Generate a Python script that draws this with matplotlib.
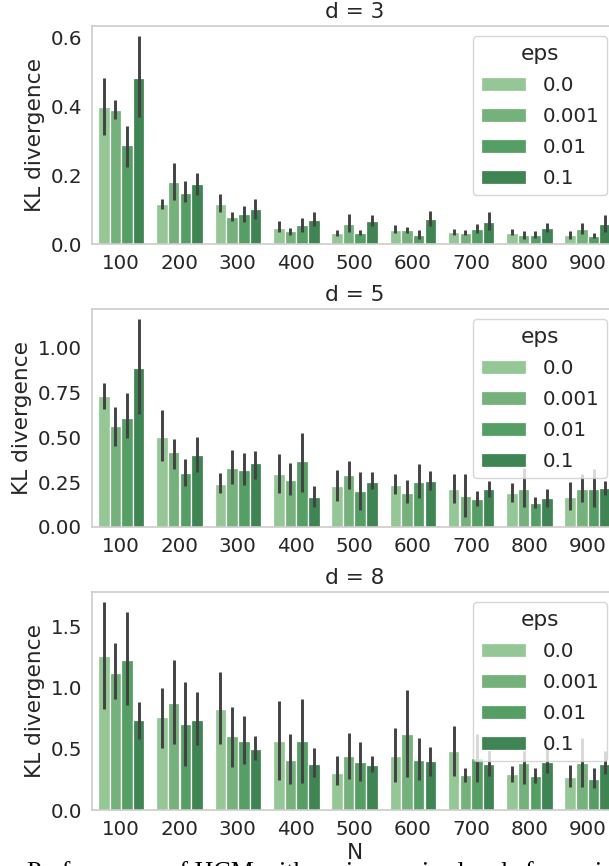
import matplotlib
matplotlib.use("Agg")
import matplotlib.pyplot as plt
import numpy as np

# ---------------- data ----------------
N_labels = ["100", "200", "300", "400", "500", "600", "700", "800", "900"]
eps_labels = ["0.0", "0.001", "0.01", "0.1"]
colors = ["#95c796", "#74b17b", "#559f65", "#3f8553"]

# d = 3  (mean, ci_low, ci_high) per eps, per N
d3_mean = [
    [0.398, 0.115, 0.117, 0.047, 0.033, 0.042, 0.035, 0.033, 0.025],
    [0.389, 0.181, 0.078, 0.038, 0.058, 0.041, 0.032, 0.025, 0.044],
    [0.287, 0.148, 0.087, 0.055, 0.033, 0.027, 0.043, 0.027, 0.024],
    [0.484, 0.174, 0.102, 0.070, 0.067, 0.072, 0.065, 0.048, 0.058],
]
d3_lo = [
    [0.318, 0.101, 0.093, 0.036, 0.024, 0.031, 0.027, 0.025, 0.015],
    [0.364, 0.128, 0.067, 0.027, 0.034, 0.031, 0.025, 0.015, 0.029],
    [0.224, 0.121, 0.065, 0.034, 0.025, 0.014, 0.031, 0.017, 0.017],
    [0.369, 0.144, 0.072, 0.053, 0.053, 0.053, 0.041, 0.036, 0.036],
]
d3_hi = [
    [0.482, 0.132, 0.145, 0.067, 0.042, 0.054, 0.043, 0.043, 0.037],
    [0.418, 0.237, 0.092, 0.047, 0.086, 0.050, 0.041, 0.037, 0.062],
    [0.344, 0.184, 0.111, 0.076, 0.041, 0.042, 0.057, 0.037, 0.032],
    [0.604, 0.208, 0.132, 0.092, 0.084, 0.096, 0.093, 0.062, 0.084],
]

# d = 5
d5_mean = [
    [0.726, 0.503, 0.239, 0.295, 0.230, 0.236, 0.210, 0.190, 0.169],
    [0.560, 0.416, 0.331, 0.263, 0.287, 0.190, 0.173, 0.212, 0.210],
    [0.608, 0.300, 0.319, 0.366, 0.201, 0.252, 0.153, 0.134, 0.210],
    [0.886, 0.400, 0.355, 0.166, 0.252, 0.256, 0.210, 0.160, 0.215],
]
d5_lo = [
    [0.654, 0.366, 0.190, 0.188, 0.147, 0.184, 0.136, 0.138, 0.094],
    [0.453, 0.324, 0.239, 0.177, 0.210, 0.134, 0.055, 0.110, 0.138],
    [0.494, 0.227, 0.234, 0.197, 0.096, 0.164, 0.116, 0.103, 0.109],
    [0.630, 0.308, 0.269, 0.110, 0.210, 0.208, 0.168, 0.110, 0.177],
]
d5_hi = [
    [0.803, 0.652, 0.298, 0.405, 0.317, 0.293, 0.293, 0.245, 0.252],
    [0.670, 0.488, 0.427, 0.355, 0.368, 0.260, 0.296, 0.330, 0.295],
    [0.746, 0.381, 0.411, 0.523, 0.308, 0.352, 0.201, 0.168, 0.324],
    [1.155, 0.499, 0.424, 0.227, 0.304, 0.309, 0.258, 0.214, 0.256],
]

# d = 8
d8_mean = [
    [1.257, 0.764, 0.824, 0.564, 0.306, 0.444, 0.485, 0.293, 0.271],
    [1.122, 0.878, 0.604, 0.412, 0.442, 0.623, 0.285, 0.385, 0.385],
    [1.230, 0.702, 0.564, 0.564, 0.393, 0.412, 0.423, 0.276, 0.252],
    [0.740, 0.734, 0.499, 0.377, 0.371, 0.398, 0.377, 0.396, 0.379],
]
d8_lo = [
    [0.827, 0.509, 0.539, 0.244, 0.203, 0.233, 0.276, 0.228, 0.190],
    [0.905, 0.542, 0.355, 0.211, 0.255, 0.266, 0.230, 0.214, 0.187],
    [0.856, 0.358, 0.374, 0.222, 0.241, 0.249, 0.233, 0.217, 0.184],
    [0.585, 0.528, 0.407, 0.271, 0.312, 0.279, 0.282, 0.301, 0.295],
]
d8_hi = [
    [1.699, 0.997, 1.133, 0.892, 0.439, 0.672, 0.688, 0.363, 0.369],
    [1.363, 1.228, 0.846, 0.621, 0.634, 0.986, 0.347, 0.561, 0.588],
    [1.621, 1.051, 0.770, 0.908, 0.558, 0.593, 0.621, 0.347, 0.347],
    [0.883, 0.962, 0.602, 0.507, 0.444, 0.518, 0.493, 0.520, 0.480],
]

titles = ["d = 3", "d = 5", "d = 8"]
panels = [(d3_mean, d3_lo, d3_hi), (d5_mean, d5_lo, d5_hi), (d8_mean, d8_lo, d8_hi)]

# ---------------- style ----------------
text_color = "#262626"
plt.rcParams["font.family"] = ["DejaVu Sans"]
plt.rcParams["text.color"] = text_color
plt.rcParams["axes.labelcolor"] = text_color
plt.rcParams["xtick.color"] = text_color
plt.rcParams["ytick.color"] = text_color

W, H = 609, 866
fig = plt.figure(figsize=(W / 100, H / 100), dpi=100)
fig.patch.set_facecolor("white")

ax_left, ax_right = 92, 617
ax_tops = [26, 309, 592]
ax_h = 218

for k, (means, los, his) in enumerate(panels):
    top = ax_tops[k]
    ax = fig.add_axes([ax_left / W, (H - top - ax_h) / H, (ax_right - ax_left) / W, ax_h / H])
    n_groups = len(N_labels)
    n_hue = len(eps_labels)
    width = 0.8 / n_hue
    x = np.arange(n_groups)
    for j in range(n_hue):
        xs = x - 0.4 + width * (j + 0.5)
        ax.bar(xs, means[j], width=width, color=colors[j], edgecolor="white",
               linewidth=0.9, label=eps_labels[j], zorder=2)
        for xi, lo, hi in zip(xs, los[j], his[j]):
            ax.plot([xi, xi], [lo, hi], color="#424242", lw=2.1,
                    solid_capstyle="butt", zorder=3)
    ax.set_xlim(-0.5, n_groups - 0.5)
    ax.set_ylim(bottom=0)
    ax.autoscale(axis="y")
    ax.set_xticks(x)
    ax.set_xticklabels(N_labels)
    ax.tick_params(axis="both", length=0, pad=7, labelsize=14.3)
    for sp in ax.spines.values():
        sp.set_color("#cccccc")
        sp.set_linewidth(1.2)
    ax.set_ylabel("KL divergence", fontsize=15.6)
    ax.set_title(titles[k], fontsize=15.6)
    if k == 2:
        ax.set_xlabel("N", fontsize=15.6, labelpad=3)
    leg = ax.legend(title="eps", loc="upper right", fontsize=14.3,
                    title_fontsize=15.6, frameon=True, fancybox=True,
                    framealpha=0.8, edgecolor="#cccccc", handlelength=2.3,
                    labelspacing=0.6)
    leg.get_frame().set_linewidth(1.0)

# cropped caption text from the source page
fig.text(27 / W, -13 / H, "Performance of HCM with various noise levels for various",
         fontsize=18.7, family=["Liberation Serif", "DejaVu Serif"], color="black",
         ha="left", va="baseline")

fig.savefig("out.png", dpi=100, facecolor="white")
